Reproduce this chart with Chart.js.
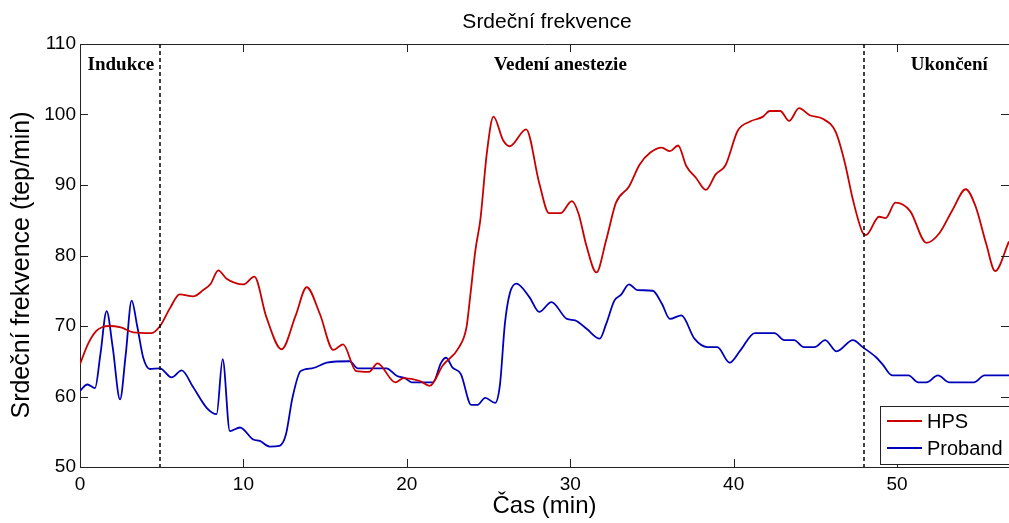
<!DOCTYPE html>
<html>
<head>
<meta charset="utf-8">
<script src="https://cdn.jsdelivr.net/npm/chart.js@4/dist/chart.umd.min.js"></script>
<style>
  html, body { margin: 0; padding: 0; background: #fff; }
  #wrap { width: 1009px; height: 523px; }
</style>
</head>
<body>
<div id="wrap"><canvas id="hr"></canvas></div>
<script>
// time (min) and heart rate (bpm)
const hpsTime = [0, 0.5, 1.0, 1.43, 1.74, 2.5, 3.26, 4.38, 4.9, 5.5, 6.1, 6.93, 7.54, 8.0, 8.46, 8.97, 10, 10.67, 11.4, 12.34, 13.2, 13.87, 14.68, 15.5, 16.1, 16.9, 17.7, 18.2, 19.3, 19.8, 20.8, 21.4, 22.2, 23.2, 23.65, 23.85, 24.2, 24.5, 24.9, 25.3, 25.9, 26.3, 27.3, 28.1, 28.7, 29.4, 30.1, 30.5, 31.0, 31.6, 32.2, 32.8, 33.6, 34.25, 34.9, 35.6, 36.1, 36.6, 37.1, 37.7, 38.3, 38.9, 39.5, 40.25, 41.0, 41.8, 42.2, 42.85, 43.4, 44.0, 44.65, 45.45, 46.25, 46.8, 47.3, 47.9, 48.1, 48.9, 49.3, 49.9, 50.8, 51.8, 52.6, 53.4, 54.2, 54.8, 55.45, 56.0, 56.85];
const hpsRate = [64.6, 67.5, 69.3, 69.9, 70, 69.8, 69.1, 69, 70, 72.5, 74.5, 74.2, 75.1, 76, 77.9, 76.7, 75.9, 77, 71.3, 66.7, 71.5, 75.5, 71.7, 66.6, 67.4, 63.6, 63.5, 64.7, 62, 62.6, 62.2, 61.5, 64.4, 67, 69.8, 73.6, 80.8, 85.1, 94.6, 99.7, 96.3, 95.5, 97.9, 90.3, 86, 86, 87.7, 86, 81.3, 77.6, 82.2, 87.5, 89.8, 92.9, 94.6, 95.3, 94.8, 95.6, 92.7, 91, 89.3, 91.5, 92.8, 97.7, 99, 99.7, 100.5, 100.5, 99.1, 100.9, 99.9, 99.4, 97.5, 93.2, 87.9, 83.2, 82.9, 85.5, 85.3, 87.5, 86.3, 81.8, 83.2, 86.5, 89.4, 87, 81.7, 77.8, 82];

const probandTime = [0, 0.45, 0.92, 1.25, 1.63, 2.0, 2.45, 2.8, 3.16, 3.5, 3.87, 4.28, 4.89, 5.61, 6.22, 6.93, 7.75, 8.36, 8.73, 9.17, 9.79, 10.6, 11.0, 11.6, 12.2, 12.6, 13.0, 13.5, 14.2, 15.1, 16.5, 17.0, 18.75, 19.4, 19.9, 20.3, 21.6, 22.1, 22.4, 22.8, 23.3, 23.95, 24.3, 24.8, 25.4, 25.7, 26.0, 26.3, 26.7, 27.5, 28.1, 28.85, 29.8, 30.3, 31.0, 31.8, 32.2, 32.7, 33.1, 33.6, 34.1, 35.05, 35.6, 36.1, 36.8, 37.6, 38.4, 39.0, 39.75, 40.4, 41.3, 42.5, 43.1, 43.7, 44.3, 44.95, 45.6, 46.3, 47.3, 47.9, 48.7, 49.1, 49.7, 50.7, 51.3, 51.8, 52.5, 53.2, 54.7, 55.35, 56.85];
const probandRate = [60.8, 61.7, 61.2, 66, 72.1, 67, 59.6, 66, 73.6, 70, 65.5, 63.9, 64, 62.7, 63.7, 61.3, 58.4, 57.5, 65.3, 55.1, 55.6, 53.9, 53.7, 52.9, 53, 54.6, 59.8, 63.6, 64, 64.8, 65, 64, 64, 62.9, 62.6, 62, 62, 64.8, 65.5, 64.1, 63.2, 58.8, 58.8, 59.8, 59.1, 61.7, 70.3, 74.6, 76, 74.1, 72, 73.4, 71, 70.8, 69.6, 68.2, 70.3, 73.6, 74.4, 75.9, 75.1, 75, 73.2, 71, 71.5, 68.2, 67, 67, 64.8, 66.5, 69, 69, 68, 68, 67, 67, 68, 66.4, 68, 67, 65.6, 64.6, 63, 63, 62, 62, 63, 62, 62, 63, 63];

const seriesNames = ['HPS', 'Proband'];
const seriesColors = ['#c80000', '#0000bb'];

// phase boundaries (min) and phase labels
const phaseBounds = [4.9, 48];
const phaseNames = ['Indukce', 'Vedení anestezie', 'Ukončení'];
const phaseCenters = [2.5, 29.4, 53.2];

const xTicks = [0, 10, 20, 30, 40, 50];
const yTicks = [50, 60, 70, 80, 90, 100, 110];

const toPoints = (t, v) => t.map((x, i) => ({ x: x, y: v[i] }));
const sans = '"Liberation Sans", Arial, sans-serif';

const frame = {
  id: 'frame',
  afterDatasetsDraw(chart) {
    const { ctx, chartArea: a, scales: { x, y } } = chart;
    ctx.save();
    // top of the box
    ctx.strokeStyle = '#222';
    ctx.lineWidth = 1;
    ctx.beginPath();
    ctx.moveTo(a.left, a.top + 0.5);
    ctx.lineTo(a.right, a.top + 0.5);
    ctx.stroke();
    // inward ticks
    ctx.beginPath();
    xTicks.forEach(v => {
      const px = Math.round(x.getPixelForValue(v)) + 0.5;
      ctx.moveTo(px, a.bottom); ctx.lineTo(px, a.bottom - 8);
      ctx.moveTo(px, a.top); ctx.lineTo(px, a.top + 8);
    });
    yTicks.forEach(v => {
      const py = Math.round(y.getPixelForValue(v)) + 0.5;
      ctx.moveTo(a.left, py); ctx.lineTo(a.left + 8, py);
      ctx.moveTo(a.right, py); ctx.lineTo(a.right - 8, py);
    });
    ctx.stroke();
    // phase dividers
    ctx.setLineDash([4, 3]);
    ctx.lineWidth = 1.5;
    ctx.strokeStyle = '#000';
    phaseBounds.forEach(v => {
      const px = Math.round(x.getPixelForValue(v));
      ctx.beginPath();
      ctx.moveTo(px, a.top); ctx.lineTo(px, a.bottom);
      ctx.stroke();
    });
    ctx.setLineDash([]);
    // phase labels
    ctx.fillStyle = '#000';
    ctx.font = 'bold 19px "Liberation Serif", serif';
    ctx.textAlign = 'center';
    ctx.textBaseline = 'alphabetic';
    phaseNames.forEach((n, i) => ctx.fillText(n, x.getPixelForValue(phaseCenters[i]), a.top + 26));
    // title
    ctx.font = '21px ' + sans;
    ctx.fillText('Srdeční frekvence', 547, 28);
    // y axis title
    ctx.save();
    ctx.translate(22, 265);
    ctx.rotate(-Math.PI / 2);
    ctx.font = '25px ' + sans;
    ctx.textBaseline = 'middle';
    ctx.fillText('Srdeční frekvence (tep/min)', 0, 0);
    ctx.restore();
    // legend
    const lx = 880, ly = 406, lw = 140, lh = 58;
    ctx.fillStyle = '#fff';
    ctx.fillRect(lx, ly, lw, lh);
    ctx.strokeStyle = '#222';
    ctx.lineWidth = 1;
    ctx.strokeRect(lx + 0.5, ly + 0.5, lw, lh);
    ctx.font = '20px ' + sans;
    ctx.textAlign = 'left';
    ctx.textBaseline = 'middle';
    seriesNames.forEach((n, i) => {
      const yy = ly + 15 + i * 27;
      ctx.strokeStyle = seriesColors[i];
      ctx.lineWidth = 1.8;
      ctx.beginPath();
      ctx.moveTo(887, yy); ctx.lineTo(922, yy);
      ctx.stroke();
      ctx.fillStyle = '#000';
      ctx.fillText(n, 927, yy + 1);
    });
    ctx.restore();
  }
};

new Chart(document.getElementById('hr'), {
  type: 'line',
  data: {
    datasets: [
      { label: seriesNames[0], data: toPoints(hpsTime, hpsRate), borderColor: seriesColors[0] },
      { label: seriesNames[1], data: toPoints(probandTime, probandRate), borderColor: seriesColors[1] }
    ]
  },
  options: {
    responsive: true,
    maintainAspectRatio: false,
    animation: false,
    layout: { padding: { top: 44, right: 0, left: 0, bottom: 0 } },
    elements: {
      point: { radius: 0 },
      line: { borderWidth: 1.8, cubicInterpolationMode: 'monotone' }
    },
    plugins: { legend: { display: false }, title: { display: false }, tooltip: { enabled: false } },
    scales: {
      x: {
        type: 'linear',
        min: 0,
        max: 56.85,
        afterFit(s) { s.height = 56; },
        grid: { display: false, drawTicks: false },
        border: { display: true, color: '#222', width: 1 },
        ticks: {
          stepSize: 10,
          includeBounds: false,
          padding: 6,
          color: '#000',
          font: { family: sans, size: 19 },
          maxRotation: 0
        },
        title: {
          display: true,
          text: 'Čas (min)',
          color: '#000',
          font: { family: sans, size: 24 },
          padding: { top: 0, bottom: 2 }
        }
      },
      y: {
        min: 50,
        max: 110,
        afterFit(s) { s.width = 80; },
        grid: { display: false, drawTicks: false },
        border: { display: true, color: '#222', width: 1 },
        ticks: {
          stepSize: 10,
          padding: 4,
          color: '#000',
          font: { family: sans, size: 19 }
        },
        title: { display: false }
      }
    }
  },
  plugins: [frame]
});
</script>
</body>
</html>
